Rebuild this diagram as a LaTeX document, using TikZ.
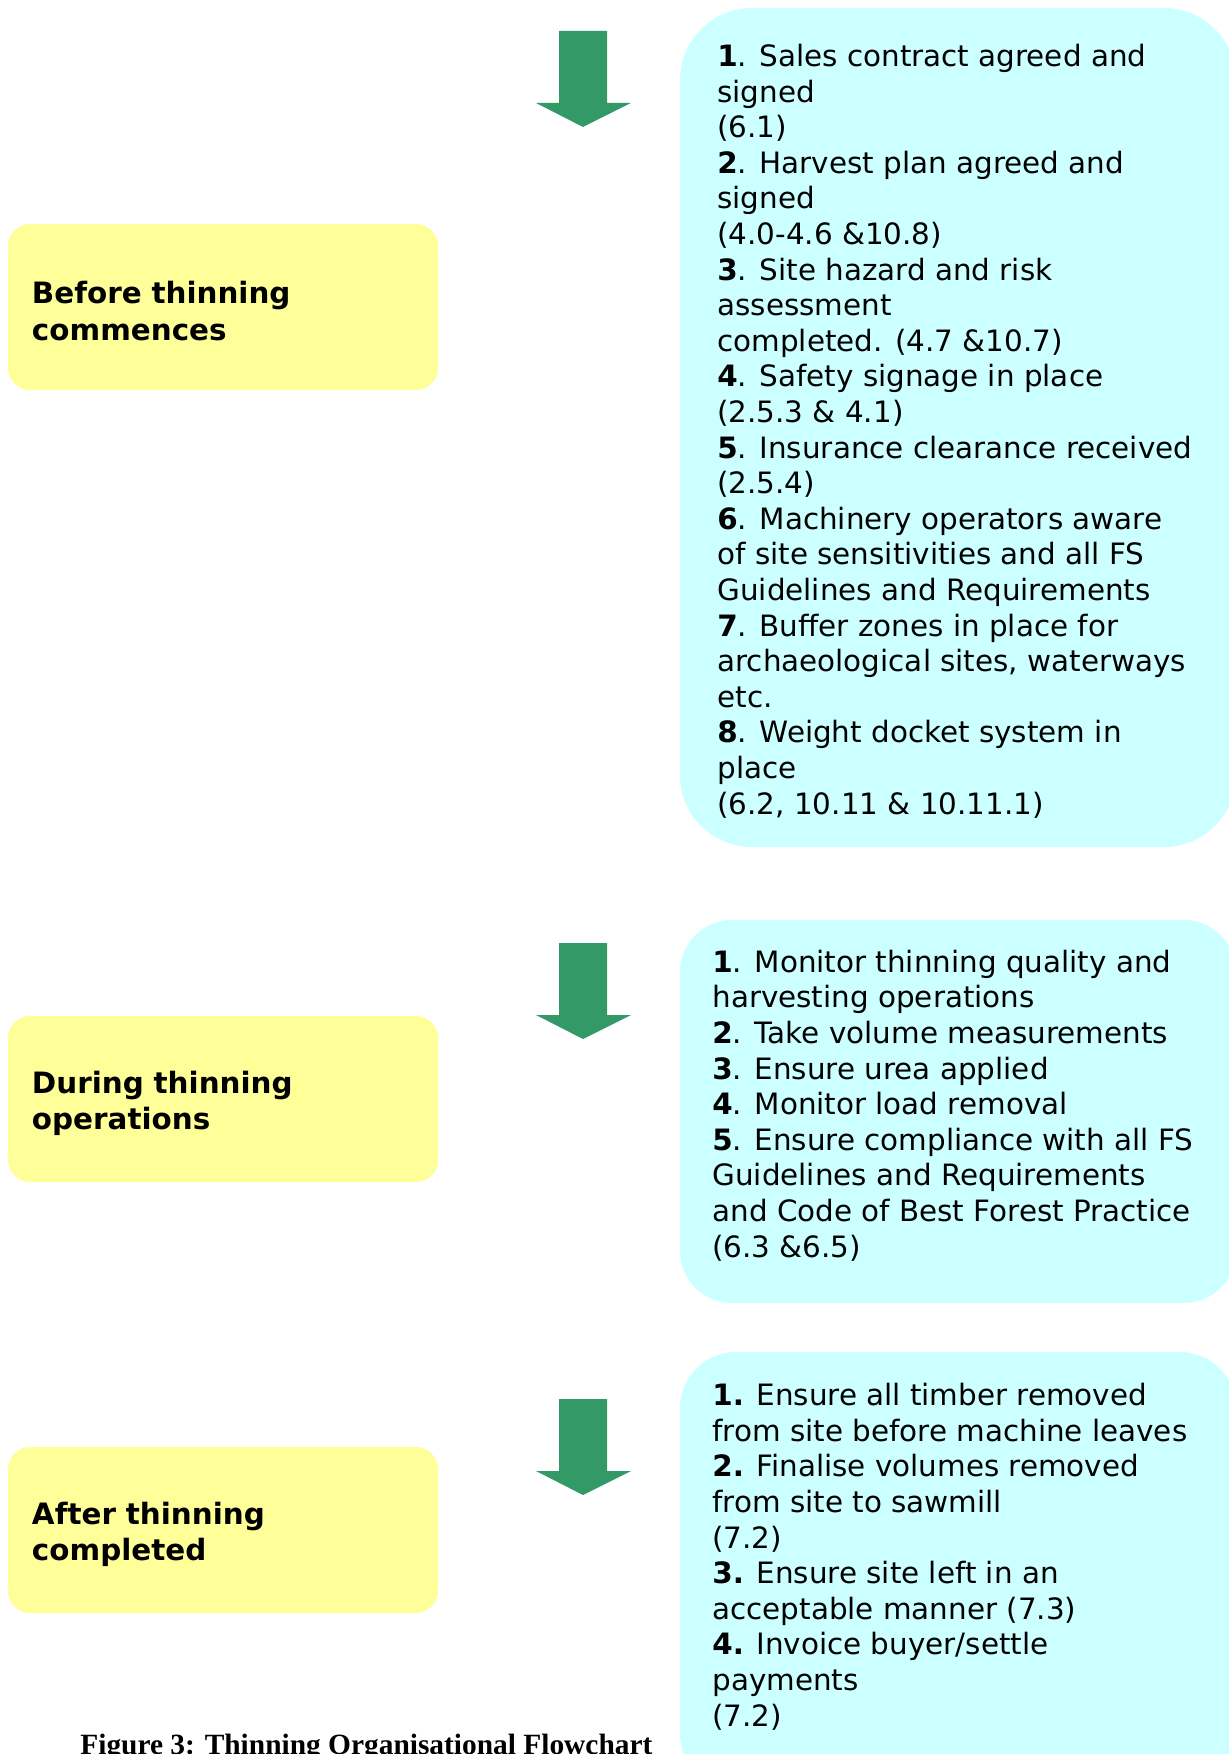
\documentclass[tikz,border=0pt]{standalone}
\usepackage{fontspec}
\setmainfont{DejaVu Sans}
\newfontfamily\captionfont{Liberation Serif}
\definecolor{stageyellow}{HTML}{FFFF99}
\definecolor{checkcyan}{HTML}{CCFFFF}
\definecolor{arrowgreen}{HTML}{339966}
\tikzset{
  stagebox/.style={fill=stageyellow, rounded corners=11pt, minimum width=215pt,
    minimum height=83pt, text width=191pt, inner xsep=12pt, align=left,
    font=\fontsize{14.7}{18.4}\selectfont\bfseries,
    execute at begin node=\rule{0pt}{15.6pt}},
  checklist/.style={inner sep=0pt, anchor=base west, align=left,
    font=\fontsize{14.7}{17.8}\selectfont}
}
\begin{document}
\begin{tikzpicture}[x=0.5pt, y=-0.5pt]
    \useasboundingbox (0,0) rectangle (1228,1754);
    \fill[checkcyan, rounded corners=36pt] (680,8) rectangle (1236,847);
    \fill[checkcyan, rounded corners=26pt] (680,920) rectangle (1236,1303);
    \fill[checkcyan, rounded corners=28pt] (680,1352) rectangle (1236,1790);
    \foreach \t in {31,943,1399}
        \fill[arrowgreen] (559,\t) -- (607,\t) -- (607,\t+72) -- (631,\t+72)
            -- (583,\t+96) -- (536,\t+72) -- (559,\t+72) -- cycle;
    \node[stagebox] (before) at (223,307) {Before thinning\\commences};
    \node[stagebox] (during) at (223,1099) {During thinning\\operations};
    \node[stagebox] (after) at (223,1530) {After thinning\\completed};
    \node[checklist] (beforelist) at (717,814) {%
        \textbf{1}. Sales contract agreed and\\
        signed\\
        (6.1)\\
        \textbf{2}. Harvest plan agreed and\\
        signed\\
        (4.0-4.6 \&10.8)\\
        \textbf{3}. Site hazard and risk\\
        assessment\\
        completed. (4.7 \&10.7)\\
        \textbf{4}. Safety signage in place\\
        (2.5.3 \& 4.1)\\
        \textbf{5}. Insurance clearance received\\
        (2.5.4)\\
        \textbf{6}. Machinery operators aware\\
        of site sensitivities and all FS\\
        Guidelines and Requirements\\
        \textbf{7}. Buffer zones in place for\\
        archaeological sites, waterways\\
        etc.\\
        \textbf{8}. Weight docket system in\\
        place\\
        (6.2, 10.11 \& 10.11.1)};
    \node[checklist] (duringlist) at (712,1257) {%
        \textbf{1}. Monitor thinning quality and\\
        harvesting operations\\
        \textbf{2}. Take volume measurements\\
        \textbf{3}. Ensure urea applied\\
        \textbf{4}. Monitor load removal\\
        \textbf{5}. Ensure compliance with all FS\\
        Guidelines and Requirements\\
        and Code of Best Forest Practice\\
        (6.3 \&6.5)};
    \node[checklist] (afterlist) at (712,1726) {%
        \textbf{1.} Ensure all timber removed\\
        from site before machine leaves\\
        \textbf{2.} Finalise volumes removed\\
        from site to sawmill\\
        (7.2)\\
        \textbf{3.} Ensure site left in an\\
        acceptable manner (7.3)\\
        \textbf{4.} Invoice buyer/settle\\
        payments\\
        (7.2)};
    \node[inner sep=0pt, anchor=base west, font=\captionfont\bfseries\fontsize{14.7}{17.8}\selectfont]
        (caption) at (80,1754) {Figure 3: Thinning Organisational Flowchart};
\end{tikzpicture}
\end{document}
